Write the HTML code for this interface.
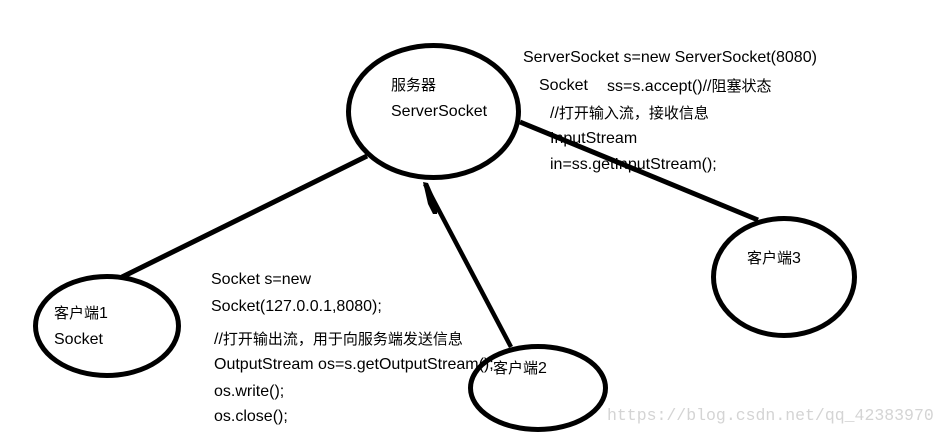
<!DOCTYPE html>
<html>
<head>
<meta charset="utf-8">
<style>
  html, body { margin:0; padding:0; background:#fff; }
  body { width:948px; height:436px; position:relative; overflow:hidden;
         font-family:"Liberation Sans","Noto Sans CJK SC",sans-serif; font-size:16px; color:#000; }
  .t { position:absolute; white-space:nowrap; line-height:20px; }
  .c { font-family:"Noto Sans CJK SC","WenQuanYi Zen Hei",sans-serif; font-size:15px; line-height:20px; }
  .wm { position:absolute; white-space:nowrap; font-family:"Liberation Mono",monospace; font-size:16.5px; color:#d4d4d4; line-height:20px; }
  svg { position:absolute; left:0; top:0; }
</style>
</head>
<body>

<!-- server side text -->
<div class="t" style="left:523px;top:48px;">ServerSocket s=new ServerSocket(8080)</div>
<div class="t" style="left:539px;top:76px;">Socket</div>
<div class="t" style="left:607px;top:76px;">ss=s.accept()//<span class="c">阻塞状态</span></div>
<div class="t" style="left:550px;top:103px;">//<span class="c">打开输入流，接收信息</span></div>
<div class="t" style="left:550px;top:129px;">InputStream</div>
<div class="t" style="left:550px;top:155px;">in=ss.getInputStream();</div>

<!-- server node -->
<div class="t" style="left:391px;top:75px;"><span class="c">服务器</span></div>
<div class="t" style="left:391px;top:102px;">ServerSocket</div>

<!-- client 1 -->
<div class="t" style="left:54px;top:303px;"><span class="c">客户端</span>1</div>
<div class="t" style="left:54px;top:330px;">Socket</div>

<!-- client side code -->
<div class="t" style="left:211px;top:270px;">Socket s=new</div>
<div class="t" style="left:211px;top:297px;">Socket(127.0.0.1,8080);</div>
<div class="t" style="left:214px;top:329px;">//<span class="c">打开输出流，用于向服务端发送信息</span></div>
<div class="t" style="left:214px;top:355px;">OutputStream os=s.getOutputStream();</div>
<div class="t" style="left:214px;top:382px;">os.write();</div>
<div class="t" style="left:214px;top:407px;">os.close();</div>

<!-- client 3 / client 2 -->
<div class="t" style="left:747px;top:248px;"><span class="c">客户端</span>3</div>
<div class="t" style="left:493px;top:358px;"><span class="c">客户端</span>2</div>

<div class="wm" style="left:607px;top:406px;">https://blog.csdn.net/qq_42383970</div>

<svg width="948" height="436" viewBox="0 0 948 436">
  <g fill="none" stroke="#000" stroke-width="5">
    <ellipse cx="433.5" cy="111.5" rx="85" ry="66"/>
    <ellipse cx="107" cy="326" rx="71.5" ry="49.5"/>
    <ellipse cx="784" cy="277" rx="70.5" ry="58.5"/>
    <ellipse cx="538" cy="388" rx="67.5" ry="41.5"/>
    <line x1="122" y1="277" x2="367" y2="156"/>
    <line x1="520" y1="122" x2="758" y2="220"/>
  </g>
  <line x1="511" y1="347" x2="425" y2="184" stroke="#000" stroke-width="4.5"/>
  <polygon points="423,182 428,183 438,206 437,214 433,214 428,204" fill="#000"/>
</svg>

</body>
</html>
